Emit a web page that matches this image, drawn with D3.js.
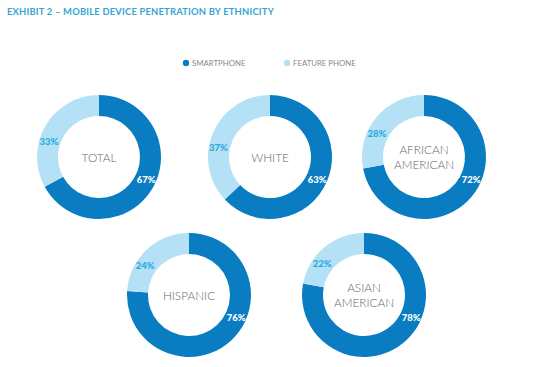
<!DOCTYPE html>
<html>
<head>
<meta charset="utf-8">
<script src="https://cdn.jsdelivr.net/npm/d3@7"></script>
<style>
html,body{margin:0;padding:0;background:#fff;}
svg{display:block;}
</style>
</head>
<body>
<svg id="chart" width="550" height="367"></svg>
<script>
const title = "EXHIBIT 2 – MOBILE DEVICE PENETRATION BY ETHNICITY";
const seriesNames = ["SMARTPHONE", "FEATURE PHONE"];
const groups = [["TOTAL"], ["WHITE"], ["AFRICAN", "AMERICAN"], ["HISPANIC"], ["ASIAN", "AMERICAN"]];
const smartphone = [67, 63, 72, 76, 78];
const featurePhone = [33, 37, 28, 24, 22];

const colors = ["#0a7dc2", "#b4e1f6"];
const labelColors = ["#ffffff", "#2aa9de"];

const svg = d3.select("#chart");

svg.append("text")
  .attr("x", 7).attr("y", 15)
  .attr("font-family", "Lato, sans-serif")
  .attr("font-weight", 700)
  .attr("font-size", 9.4)
  .attr("letter-spacing", 0.2)
  .attr("fill", "#36a5d2")
  .text(title);

// legend
const legend = svg.append("g");
const legendX = d3.scalePoint().domain(seriesNames).range([186, 287]);
seriesNames.forEach((s, i) => {
  legend.append("circle").attr("cx", legendX(s)).attr("cy", 63).attr("r", 3.2).attr("fill", colors[i]);
  legend.append("text").attr("x", legendX(s) + 6).attr("y", 66)
    .attr("font-family", "Lato, sans-serif").attr("font-size", 7.8)
    .attr("fill", "#888").text(s);
});

// layout of donuts
const centersX = [99, 270, 424, 189, 364];
const centersY = [157, 157, 157, 295, 295];
const outerR = 62, innerR = 41;

const pie = d3.pie().sort(null).value(d => d.v);
const arc = d3.arc().innerRadius(innerR).outerRadius(outerR);
const labelR = (innerR + outerR) / 2 + 1;

groups.forEach((g, i) => {
  const data = [{k: 0, v: smartphone[i]}, {k: 1, v: featurePhone[i]}];
  const arcs = pie(data);
  const gg = svg.append("g").attr("transform", `translate(${centersX[i]},${centersY[i]})`);
  gg.selectAll("path").data(arcs).enter().append("path")
    .attr("d", arc).attr("fill", d => colors[d.data.k]);
  arcs.forEach(a => {
    let ang;
    if (a.data.k === 0) ang = 116 * Math.PI / 180;
    else ang = (a.startAngle + a.endAngle) / 2 - 0.23;
    const x = Math.sin(ang) * labelR, y = -Math.cos(ang) * labelR;
    gg.append("text").attr("x", x).attr("y", y + 3.3)
      .attr("text-anchor", "middle")
      .attr("font-family", "Lato, sans-serif").attr("font-weight", 900)
      .attr("font-size", 9.5).attr("fill", labelColors[a.data.k])
      .text(a.data.v + "%");
  });
  const n = g.length;
  g.forEach((line, j) => {
    gg.append("text").attr("x", 0).attr("y", (j - (n - 1) / 2) * 15 + 4.5)
      .attr("text-anchor", "middle")
      .attr("font-family", "Lato, sans-serif").attr("font-weight", 300)
      .attr("font-size", 11.8).attr("fill", "#666")
      .text(line);
  });
});
</script>
</body>
</html>
